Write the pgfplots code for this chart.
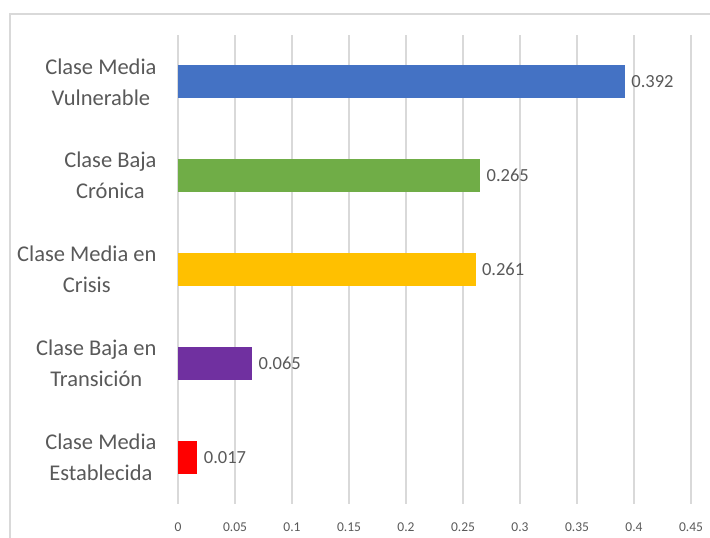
\documentclass[border=0pt]{standalone}
\usepackage{fontspec}
\setmainfont{Carlito}
\usepackage{pgfplots}
\pgfplotsset{compat=1.18}
\definecolor{txtgray}{HTML}{595959}
\definecolor{gridgray}{HTML}{D9D9D9}
\definecolor{framegray}{HTML}{D9D9D9}
\definecolor{barblue}{HTML}{4472C4}
\definecolor{bargreen}{HTML}{70AD47}
\definecolor{baryellow}{HTML}{FFC000}
\definecolor{barpurple}{HTML}{7030A0}
\definecolor{barred}{HTML}{FF0000}

\begin{document}
\begin{tikzpicture}[x=1bp,y=1bp]
\begin{axis}[
  at={(178bp,34bp)}, anchor=south west,
  scale only axis,
  width=513bp, height=469bp,
  xbar, bar width=33bp, bar shift=0pt,
  xmin=0, xmax=0.45,
  ymin=-0.5, ymax=4.5,
  xtick={0,0.05,0.1,0.15,0.2,0.25,0.3,0.35,0.4,0.45},
  xticklabels={0,0.05,0.1,0.15,0.2,0.25,0.3,0.35,0.4,0.45},
  ytick={0,1,2,3,4},
  yticklabels={{Clase Media\\Establecida},{Clase Baja en\\Transición},{Clase Media en\\Crisis},{Clase Baja\\Crónica},{Clase Media\\Vulnerable}},
  major tick length=0pt,
  axis line style={draw=none},
  xmajorgrids, grid style={gridgray, line width=1.3bp},
  xticklabel style={font=\fontsize{13.5bp}{15bp}\selectfont, text=txtgray, yshift=-15bp},
  yticklabel style={font=\fontsize{22.5bp}{31bp}\selectfont, text=txtgray, align=center, xshift=-18bp},
  point meta=explicit symbolic,
  nodes near coords,
  nodes near coords style={font=\fontsize{18.5bp}{20bp}\selectfont, text=txtgray, anchor=west, xshift=3bp},
]
\addplot[fill=barred, draw=none] coordinates {(0.017,0) [0.017]};
\addplot[fill=barpurple, draw=none] coordinates {(0.065,1) [0.065]};
\addplot[fill=baryellow, draw=none] coordinates {(0.261,2) [0.261]};
\addplot[fill=bargreen, draw=none] coordinates {(0.265,3) [0.265]};
\addplot[fill=barblue, draw=none] coordinates {(0.392,4) [0.392]};
\end{axis}
\draw[framegray, line width=1.3bp] (10,-20) -- (10,524) -- (740,524);
\pgfresetboundingbox
\useasboundingbox (0,0) rectangle (710,538);
\end{tikzpicture}
\end{document}
